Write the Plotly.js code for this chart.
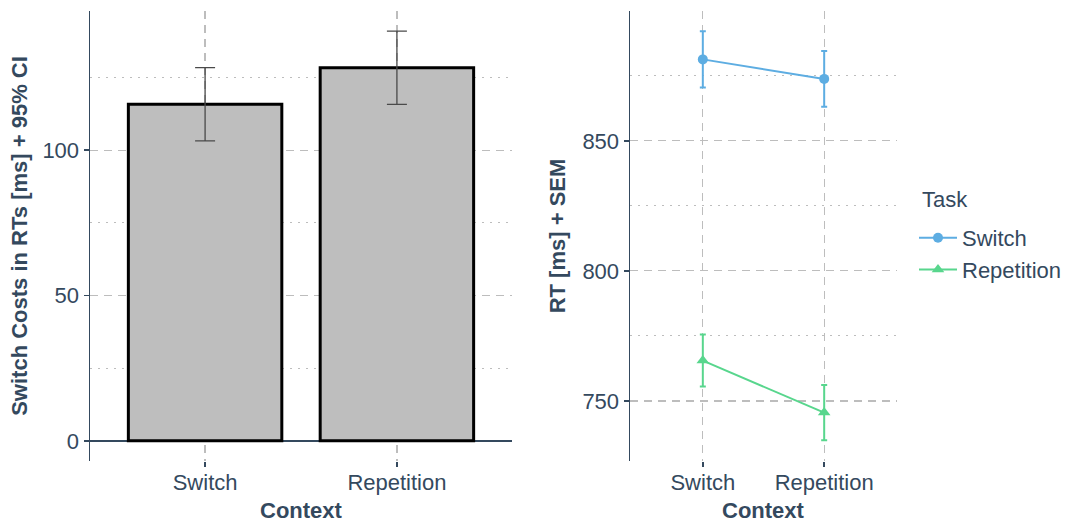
<!DOCTYPE html>
<html>
<head>
<meta charset="utf-8">
<script src="https://cdn.plot.ly/plotly-3.0.1.min.js"></script>
<style>html,body{margin:0;padding:0;background:#fff}#chart{width:1067px;height:524px}</style>
</head>
<body>
<div id="chart"></div>
<script>
// ---- data ----
const contexts = ["Switch", "Repetition"];
const switchCosts = [115.8, 128.4];
const switchCostsCI = [12.6, 12.6];
const tasks = ["Switch", "Repetition"];
const rtSwitchTask = [881.3, 873.8];
const semSwitchTask = [10.8, 10.7];
const rtRepetitionTask = [765.5, 745.5];
const semRepetitionTask = [10.0, 10.6];
const leftMajorTicks = [0, 50, 100];
const leftMinorTicks = [25, 75, 125];
const rightMajorTicks = [750, 800, 850];
const rightMinorTicks = [775, 825, 875];
const legendTitle = "Task";
const xTitle = "Context";

const txt = "#34495E";
const gridC = "#BDBDBD";
const fontFam = "Liberation Sans, Arial, sans-serif";
const blue = "#5DADE2";
const green = "#58D68D";
const FS = 22;

const traces = [
  {
    type: "bar", x: contexts, y: switchCosts, xaxis: "x", yaxis: "y",
    marker: {color: "#BEBEBE", line: {color: "#000000", width: 3}},
    error_y: {type: "data", array: switchCostsCI, visible: true, color: "#4A4A4A", thickness: 1.3, width: 10},
    showlegend: false, hoverinfo: "skip"
  },
  {
    type: "scatter", mode: "lines+markers", name: tasks[0], x: contexts, y: rtSwitchTask,
    xaxis: "x2", yaxis: "y2",
    line: {color: blue, width: 2}, marker: {color: blue, size: 10, symbol: "circle"},
    error_y: {type: "data", array: semSwitchTask, visible: true, color: blue, thickness: 2, width: 3}
  },
  {
    type: "scatter", mode: "lines+markers", name: tasks[1], x: contexts, y: rtRepetitionTask,
    xaxis: "x2", yaxis: "y2",
    line: {color: green, width: 2}, marker: {color: green, size: 11, symbol: "triangle-up"},
    error_y: {type: "data", array: semRepetitionTask, visible: true, color: green, thickness: 2, width: 3}
  }
];

const W = 1067, H = 524;
const xAxisCommon = {
  type: "category", range: [-0.6, 1.6], showgrid: true, gridcolor: gridC, griddash: "8px,6px", gridwidth: 1.2,
  zeroline: false, showline: false, ticks: "outside", ticklen: 5, tickcolor: txt, tickwidth: 1.5,
  ticklabelstandoff: -3,
  tickfont: {size: FS, color: txt, family: fontFam},
  fixedrange: true
};
const yAxisCommon = {
  showgrid: true, gridcolor: gridC, griddash: "8px,6px", gridwidth: 1.2,
  showline: true, linecolor: txt, linewidth: 1.5,
  ticks: "outside", ticklen: 5, tickcolor: txt, tickwidth: 1.5,
  tickfont: {size: FS, color: txt, family: fontFam}, tickmode: "array",
  fixedrange: true
};

const titleFont = {size: FS, color: txt, family: fontFam};
const layout = {
  width: W, height: H,
  margin: {l: 0, r: 0, t: 0, b: 0},
  paper_bgcolor: "#ffffff", plot_bgcolor: "#ffffff",
  font: {family: fontFam, color: txt},
  bargap: 0.2,
  showlegend: true,
  legend: {
    x: 914 / W, y: (H - 217) / H, xanchor: "left", yanchor: "top",
    font: {size: FS, color: txt, family: fontFam},
    itemwidth: 38, tracegroupgap: 0, bgcolor: "rgba(0,0,0,0)"
  },
  annotations: [
    {text: legendTitle, xref: "paper", yref: "paper", x: 920 / W, y: (H - 199) / H,
     xanchor: "left", yanchor: "middle", showarrow: false, font: titleFont},
    {text: "<b>" + xTitle + "</b>", xref: "x domain", yref: "paper", x: 0.5, y: 0,
     xanchor: "center", yanchor: "bottom", showarrow: false, borderpad: 0, font: titleFont},
    {text: "<b>" + xTitle + "</b>", xref: "x2 domain", yref: "paper", x: 0.5, y: 0,
     xanchor: "center", yanchor: "bottom", showarrow: false, borderpad: 0, font: titleFont}
  ],
  xaxis: Object.assign({}, xAxisCommon, {domain: [90 / W, 512 / W], anchor: "y"}),
  yaxis: Object.assign({}, yAxisCommon, {
    domain: [(H - 461) / H, (H - 11) / H], anchor: "x",
    range: [-6.95, 147.9], tickvals: leftMajorTicks, ticktext: leftMajorTicks.map(String),
    zeroline: true, zerolinecolor: txt, zerolinewidth: 1.5,
    minor: {tickmode: "array", tickvals: leftMinorTicks, showgrid: true, gridcolor: gridC, griddash: "2px,6px", gridwidth: 1.2, ticks: ""},
    title: {text: "<b>Switch Costs in RTs [ms] + 95% CI</b>", font: titleFont, standoff: 8}
  }),
  xaxis2: Object.assign({}, xAxisCommon, {domain: [630 / W, 897 / W], anchor: "y2"}),
  yaxis2: Object.assign({}, yAxisCommon, {
    domain: [(H - 461) / H, (H - 11) / H], anchor: "x2",
    range: [726.9, 899.9], tickvals: rightMajorTicks, ticktext: rightMajorTicks.map(String),
    zeroline: false,
    minor: {tickmode: "array", tickvals: rightMinorTicks, showgrid: true, gridcolor: gridC, griddash: "2px,6px", gridwidth: 1.2, ticks: ""},
    title: {text: "<b>RT [ms] + SEM</b>", font: titleFont, standoff: 10}
  })
};

Plotly.newPlot("chart", traces, layout, {displayModeBar: false, staticPlot: true});
</script>
</body>
</html>
